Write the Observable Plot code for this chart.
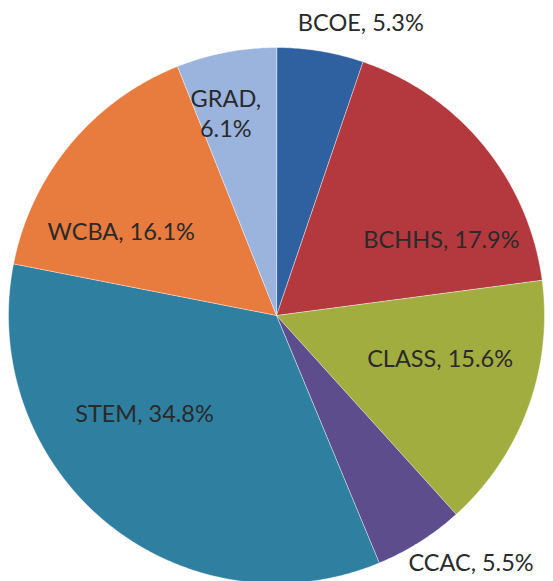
<!DOCTYPE html>
<html>
<head>
<meta charset="utf-8">
<script src="https://cdn.jsdelivr.net/npm/d3@7"></script>
<script src="https://cdn.jsdelivr.net/npm/@observablehq/plot@0.6"></script>
<style>
  html, body { margin: 0; padding: 0; background: #fff; }
  #chart { width: 553px; height: 581px; }
</style>
</head>
<body>
<div id="chart"></div>
<script>
// ---- data ----
const names  = ["BCOE", "BCHHS", "CLASS", "CCAC", "STEM", "WCBA", "GRAD"];
const shares = [5.3, 17.9, 15.6, 5.5, 34.8, 16.1, 6.1];
const labels = ["BCOE, 5.3%", "BCHHS, 17.9%", "CLASS, 15.6%", "CCAC, 5.5%", "STEM, 34.8%", "WCBA, 16.1%", "GRAD,\n6.1%"];
const colors = ["#2f609f", "#b3393f", "#a2ad40", "#5d4d8d", "#2f7fa0", "#e87b3e", "#9ab4de"];

// ---- layout (label placement relative to slice mid-angle) ----
const labelAngleOffset = [6.6, 14.2, -5.8, -6.0, 14.6, -11.1, -3.2]; // degrees
const labelRadius      = [1.14, 0.68, 0.63, 1.17, 0.61, 0.66, 0.78];  // fraction of radius

const W = 553, H = 581, cx = 276, cy = 315, R = 268;

const table = names.map((name, i) => ({name, share: shares[i], label: labels[i]}));
const arcs = d3.pie().sort(null).value(d => d.share)(table);

// slice outlines (polygon vertices sampled along each arc)
const slicePts = [];
arcs.forEach(a => {
  slicePts.push({name: a.data.name, x: 0, y: 0});
  const n = Math.max(2, Math.ceil((a.endAngle - a.startAngle) / (Math.PI / 360)));
  for (let k = 0; k <= n; k++) {
    const t = a.startAngle + (a.endAngle - a.startAngle) * k / n;
    slicePts.push({name: a.data.name, x: Math.sin(t), y: Math.cos(t)});
  }
});

const labelPts = arcs.map((a, i) => {
  const t = (a.startAngle + a.endAngle) / 2 + labelAngleOffset[i] * Math.PI / 180;
  return {label: a.data.label, x: labelRadius[i] * Math.sin(t), y: labelRadius[i] * Math.cos(t)};
});

const chart = Plot.plot({
  width: W,
  height: H,
  margin: 0,
  style: {background: "#fff", fontFamily: "Lato, 'Open Sans', sans-serif"},
  x: {type: "linear", domain: [-cx / R, (W - cx) / R], range: [0, W], axis: null},
  y: {type: "linear", domain: [-(H - cy) / R, cy / R], range: [H, 0], axis: null},
  color: {domain: names, range: colors},
  marks: [
    Plot.line(slicePts, {x: "x", y: "y", z: "name", fill: "name", stroke: "#ffffff", strokeWidth: 0.8, strokeOpacity: 0.55, curve: "linear-closed"}),
    Plot.text(labelPts, {x: "x", y: "y", text: "label", fill: "#2a2a2a", fontSize: 23.5, lineHeight: 1.28, textAnchor: "middle"})
  ]
});
document.getElementById("chart").appendChild(chart);
</script>
</body>
</html>
